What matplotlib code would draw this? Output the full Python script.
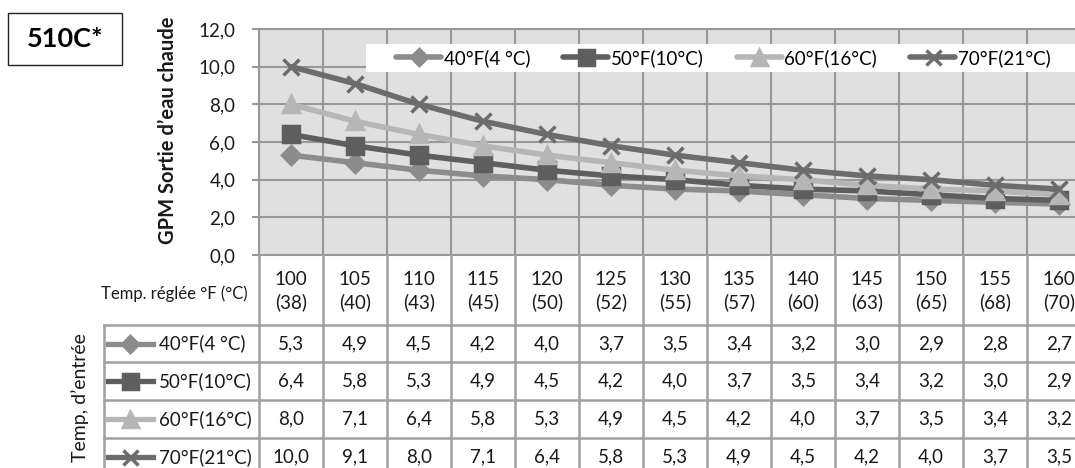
import numpy as np
import matplotlib.pyplot as plt
from matplotlib.lines import Line2D
from matplotlib.patches import Rectangle

plt.rcParams['font.family'] = ['Lato', 'DejaVu Sans']

# set temperatures (table header)
temps_f = ['100', '105', '110', '115', '120', '125', '130',
           '135', '140', '145', '150', '155', '160']
temps_c = ['38', '40', '43', '45', '50', '52', '55',
           '57', '60', '63', '65', '68', '70']

# inlet temperatures
series_names = ['40°F(4 °C)', '50°F(10°C)', '60°F(16°C)', '70°F(21°C)']

# GPM hot water output
gpm_40f = [5.3, 4.9, 4.5, 4.2, 4.0, 3.7, 3.5, 3.4, 3.2, 3.0, 2.9, 2.8, 2.7]
gpm_50f = [6.4, 5.8, 5.3, 4.9, 4.5, 4.2, 4.0, 3.7, 3.5, 3.4, 3.2, 3.0, 2.9]
gpm_60f = [8.0, 7.1, 6.4, 5.8, 5.3, 4.9, 4.5, 4.2, 4.0, 3.7, 3.5, 3.4, 3.2]
gpm_70f = [10.0, 9.1, 8.0, 7.1, 6.4, 5.8, 5.3, 4.9, 4.5, 4.2, 4.0, 3.7, 3.5]

yticks = [0, 2, 4, 6, 8, 10, 12]


def comma(v):
    return ('%.1f' % v).replace('.', ',')


def main():
    W, H = 1075, 468
    fig = plt.figure(figsize=(W / 100, H / 100), dpi=100)

    def fx(px):
        return px / W

    def fy(py):
        return 1 - py / H

    grid_c = '#989898'
    tab_c = '#a0a0a0'
    colors = ['#8c8c8c', '#5e5e5e', '#b6b6b6', '#6c6c6c']
    markers = ['D', 's', '^', 'x']
    msizes = [9, 12, 12, 12]
    all_vals = [gpm_40f, gpm_50f, gpm_60f, gpm_70f]
    fs = 13.5

    # main plot area (in pixels)
    ax_l, ax_r, ax_t, ax_b = 259, 1091, 29, 255
    ax = fig.add_axes([fx(ax_l), fy(ax_b), (ax_r - ax_l) / W, (ax_b - ax_t) / H])
    ax.set_facecolor('#e0e0e0')

    x = np.arange(len(temps_f))
    handles = []
    for vals, name, c, m, ms in zip(all_vals, series_names, colors, markers, msizes):
        h, = ax.plot(x, vals, color=c, lw=4, marker=m, ms=ms, mew=2.5,
                     label=name, solid_joinstyle='round', solid_capstyle='round',
                     zorder=3)
        handles.append(h)

    ax.set_xlim(-0.5, 12.5)
    ax.set_ylim(0, 12)
    ax.set_yticks(yticks)
    ax.set_yticklabels([comma(v) for v in yticks])
    ax.set_xticks(np.arange(-0.5, 13, 1))
    ax.set_xticklabels([])
    ax.tick_params(axis='x', length=0)
    ax.tick_params(axis='y', length=5, width=1.5, color=grid_c, pad=12,
                   labelsize=fs, labelcolor='#1a1a1a')
    ax.grid(True, color=grid_c, lw=1.5)
    ax.set_axisbelow(True)
    for s in ax.spines.values():
        s.set_color(grid_c)
        s.set_linewidth(1.5)

    # legend box
    ax.add_patch(Rectangle((107 / 832, (255 - 72) / 226), 1 - 107 / 832, 28 / 226,
                           transform=ax.transAxes, facecolor='white',
                           edgecolor='none', zorder=4))
    leg = ax.legend(handles=handles, loc='center left',
                    bbox_to_anchor=(137 / 832, (255 - 58) / 226), ncol=4,
                    frameon=False, fontsize=fs, handlelength=2.4,
                    handletextpad=0.15, columnspacing=1.75, borderaxespad=0,
                    borderpad=0, markerscale=0.9)
    leg.set_zorder(5)

    fig.text(fx(168), fy(130), 'GPM Sortie d\u2019eau chaude', rotation=90,
             ha='center', va='center', fontweight='bold', fontsize=14.5,
             color='#1a1a1a')

    # model box
    fig.patches.append(Rectangle((fx(8), fy(65)), 114 / W, 52 / H,
                                 transform=fig.transFigure, facecolor='white',
                                 edgecolor='#222222', lw=1))
    fig.text(fx(65), fy(39), '510C*', ha='center', va='center',
             fontweight='bold', fontsize=19.5)

    # data table under the chart
    tab = fig.add_axes([fx(ax_l), 0, (ax_r - ax_l) / W, (H - ax_b) / H])
    tab.set_xlim(-0.5, 12.5)
    tab.set_ylim(H - ax_b, 0)
    tab.axis('off')

    x_lab = -0.5 - (ax_l - 104) / 64.0
    row_lines = [70, 107, 145, 183]
    for b in np.arange(-0.5, 13, 1):
        tab.plot([b, b], [0, H - ax_b], color=tab_c, lw=1.8, clip_on=False)
    tab.plot([x_lab, x_lab], [row_lines[0], H - ax_b], color=tab_c, lw=1.8,
             clip_on=False)
    for yl in row_lines:
        tab.plot([x_lab, 12.5], [yl, yl], color=tab_c, lw=1.8, clip_on=False)

    for i, (f, c) in enumerate(zip(temps_f, temps_c)):
        tab.text(i, 36, '%s\n(%s)' % (f, c), ha='center', va='center',
                 linespacing=1.3, fontsize=fs, color='#1a1a1a')
    tab.text(-0.5 - 85 / 64.0, 39, 'Temp. réglée °F (°C)', ha='center',
             va='center', fontsize=12, color='#1a1a1a', clip_on=False)

    row_c = [88.5, 126, 164, 202]
    for yc, vals, name, c, m, ms in zip(row_c, all_vals, series_names,
                                         colors, markers, msizes):
        tab.add_line(Line2D([x_lab + 0.06, x_lab + 0.76], [yc, yc], color=c,
                            lw=3.8, clip_on=False))
        tab.add_line(Line2D([x_lab + 0.41], [yc], color=c, marker=m,
                            ms=ms * 0.9, mew=2.5, clip_on=False))
        tab.text(x_lab + 0.86, yc, name, ha='left', va='center', fontsize=fs,
                 color='#1a1a1a', clip_on=False)
        for i, v in enumerate(vals):
            tab.text(i, yc, comma(v), ha='center', va='center', fontsize=fs,
                     color='#1a1a1a')

    fig.text(fx(80), fy(398), 'Temp, d\u2019entrée', rotation=90, ha='center',
             va='center', fontsize=14, color='#1a1a1a')

    fig.savefig('out.png', dpi=100)


if __name__ == '__main__':
    main()
